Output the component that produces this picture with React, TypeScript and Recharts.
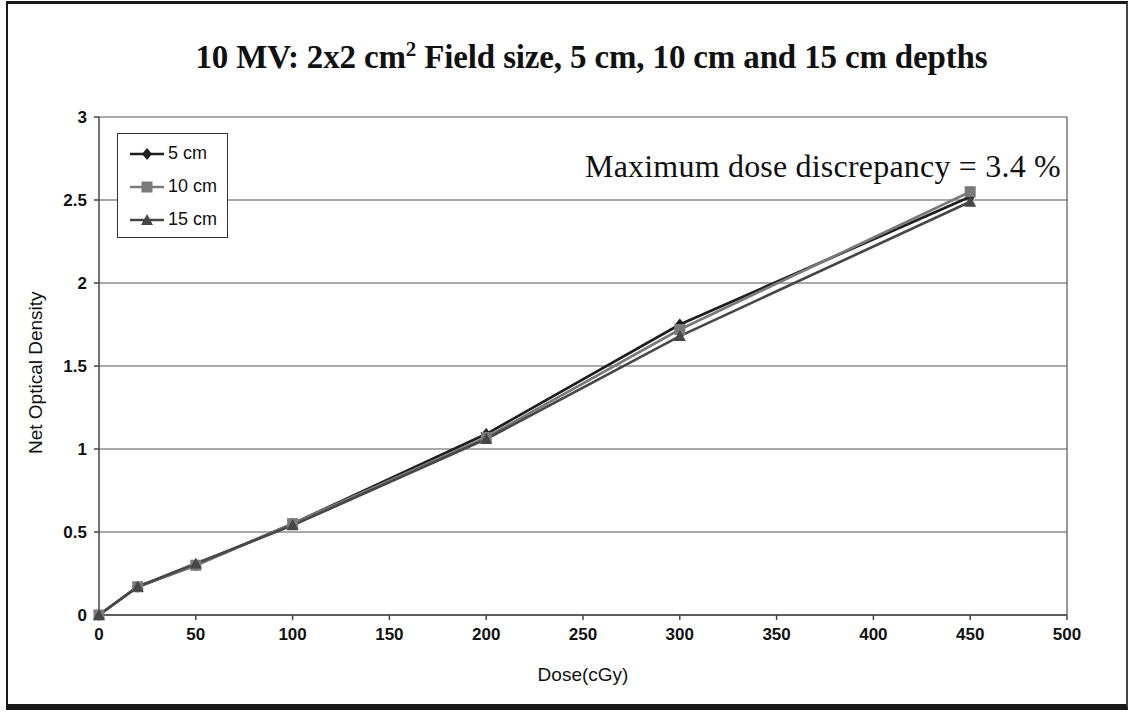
import {
  LineChart,
  Line,
  XAxis,
  YAxis,
  CartesianGrid,
  ReferenceLine,
} from "recharts";

// Net optical density vs dose, 10 MV beam, 2x2 cm² field
const doses = [0, 20, 50, 100, 200, 300, 450];
const od5cm = [0, 0.17, 0.3, 0.55, 1.09, 1.75, 2.52];
const od10cm = [0, 0.17, 0.3, 0.55, 1.07, 1.72, 2.55];
const od15cm = [0, 0.17, 0.31, 0.54, 1.06, 1.68, 2.49];

const xTicks = [0, 50, 100, 150, 200, 250, 300, 350, 400, 450, 500];
const yTicks = [0, 0.5, 1, 1.5, 2, 2.5, 3];

const seriesNames = ["5 cm", "10 cm", "15 cm"];
const seriesColors = ["#1e1e1e", "#7a7a7a", "#474747"];

const rows = doses.map((d, i) => ({
  dose: d,
  "5 cm": od5cm[i],
  "10 cm": od10cm[i],
  "15 cm": od15cm[i],
}));

const sans = "Liberation Sans, Arial, sans-serif";
const serif = "Liberation Serif, Times New Roman, serif";

const Diamond = ({ cx, cy, fill }: any) =>
  cx == null ? null : (
    <path d={`M${cx},${cy - 6}L${cx + 5},${cy}L${cx},${cy + 6}L${cx - 5},${cy}Z`} fill={fill} />
  );
const Square = ({ cx, cy, fill }: any) =>
  cx == null ? null : <rect x={cx - 5.5} y={cy - 5.5} width={11} height={11} fill={fill} />;
const Triangle = ({ cx, cy, fill }: any) =>
  cx == null ? null : (
    <path d={`M${cx},${cy - 6}L${cx + 6},${cy + 5}L${cx - 6},${cy + 5}Z`} fill={fill} />
  );

const markers = [Diamond, Square, Triangle];

const LegendBox = () => (
  <div
    style={{
      position: "absolute",
      left: 117,
      top: 133,
      width: 111,
      height: 105,
      background: "#fff",
      border: "1.5px solid #333",
      boxSizing: "border-box",
      paddingTop: 3,
      fontFamily: sans,
      fontSize: 18,
      color: "#111",
    }}
  >
    {seriesNames.map((name, i) => {
      const M = markers[i];
      return (
        <div key={name} style={{ display: "flex", alignItems: "center", height: 33 }}>
          <svg width={44} height={14} style={{ marginLeft: 10 }}>
            <line x1={2} y1={7} x2={36} y2={7} stroke={seriesColors[i]} strokeWidth={2.5} />
            <M cx={19} cy={7} fill={seriesColors[i]} />
          </svg>
          <span style={{ marginLeft: -4 }}>{name}</span>
        </div>
      );
    })}
  </div>
);

export default function App() {
  return (
    <div
      style={{
        position: "absolute",
        left: 0,
        top: 0,
        width: 1131,
        height: 713,
        background: "#fff",
      }}
    >
      <div
        style={{
          position: "absolute",
          left: 6,
          top: 1,
          width: 1122,
          height: 709,
          borderTop: "3px solid #1a1a1a",
          borderLeft: "2px solid #1a1a1a",
          borderRight: "2px solid #444",
          borderBottom: "6px solid #1a1a1a",
          boxSizing: "border-box",
        }}
      />
      <div
        style={{
          position: "absolute",
          left: 26,
          top: 37,
          width: 1131,
          textAlign: "center",
          fontFamily: serif,
          fontWeight: "bold",
          fontSize: 33,
          color: "#111",
          letterSpacing: -0.15,
        }}
      >
        10 MV: 2x2 cm<sup style={{ fontSize: 21 }}>2</sup> Field size, 5 cm, 10 cm and 15 cm depths
      </div>
      <LineChart
        width={1131}
        height={713}
        data={rows}
        margin={{ top: 117, right: 64, bottom: 58, left: 39 }}
        style={{ position: "absolute", left: 0, top: 0 }}
      >
        <CartesianGrid horizontal vertical={false} stroke="#555" strokeWidth={1.2} />
        <ReferenceLine x={500} stroke="#555" strokeWidth={1.2} />
        <XAxis
          dataKey="dose"
          type="number"
          domain={[0, 500]}
          ticks={xTicks}
          tickSize={5}
          stroke="#444"
          strokeWidth={1.5}
          tick={{ fill: "#111", fontSize: 17, fontWeight: "bold", fontFamily: sans }}
          tickMargin={8}
          height={40}
          label={{
            value: "Dose(cGy)",
            position: "insideBottom",
            offset: -26,
            fill: "#111",
            fontSize: 19,
            fontFamily: sans,
          }}
        />
        <YAxis
          type="number"
          domain={[0, 3]}
          ticks={yTicks}
          tickSize={5}
          stroke="#444"
          strokeWidth={1.5}
          width={60}
          tick={{ fill: "#111", fontSize: 17, fontWeight: "bold", fontFamily: sans }}
          tickMargin={7}
          label={{
            value: "Net Optical Density",
            angle: -90,
            position: "insideLeft",
            offset: -4,
            dy: 88,
            fill: "#111",
            fontSize: 19,
            fontFamily: sans,
          }}
        />
        {seriesNames.map((name, i) => {
          const M = markers[i];
          return (
            <Line
              key={name}
              dataKey={name}
              type="linear"
              stroke={seriesColors[i]}
              strokeWidth={2.7}
              dot={(p: any) => <M key={`${name}-${p.index}`} cx={p.cx} cy={p.cy} fill={seriesColors[i]} />}
              activeDot={false}
              isAnimationActive={false}
            />
          );
        })}
      </LineChart>
      <LegendBox />
      <div
        style={{
          position: "absolute",
          left: 585,
          top: 148,
          fontFamily: serif,
          fontSize: 32,
          color: "#111",
          whiteSpace: "nowrap",
          letterSpacing: 0.2,
        }}
      >
        Maximum dose discrepancy = 3.4 %
      </div>
    </div>
  );
}
